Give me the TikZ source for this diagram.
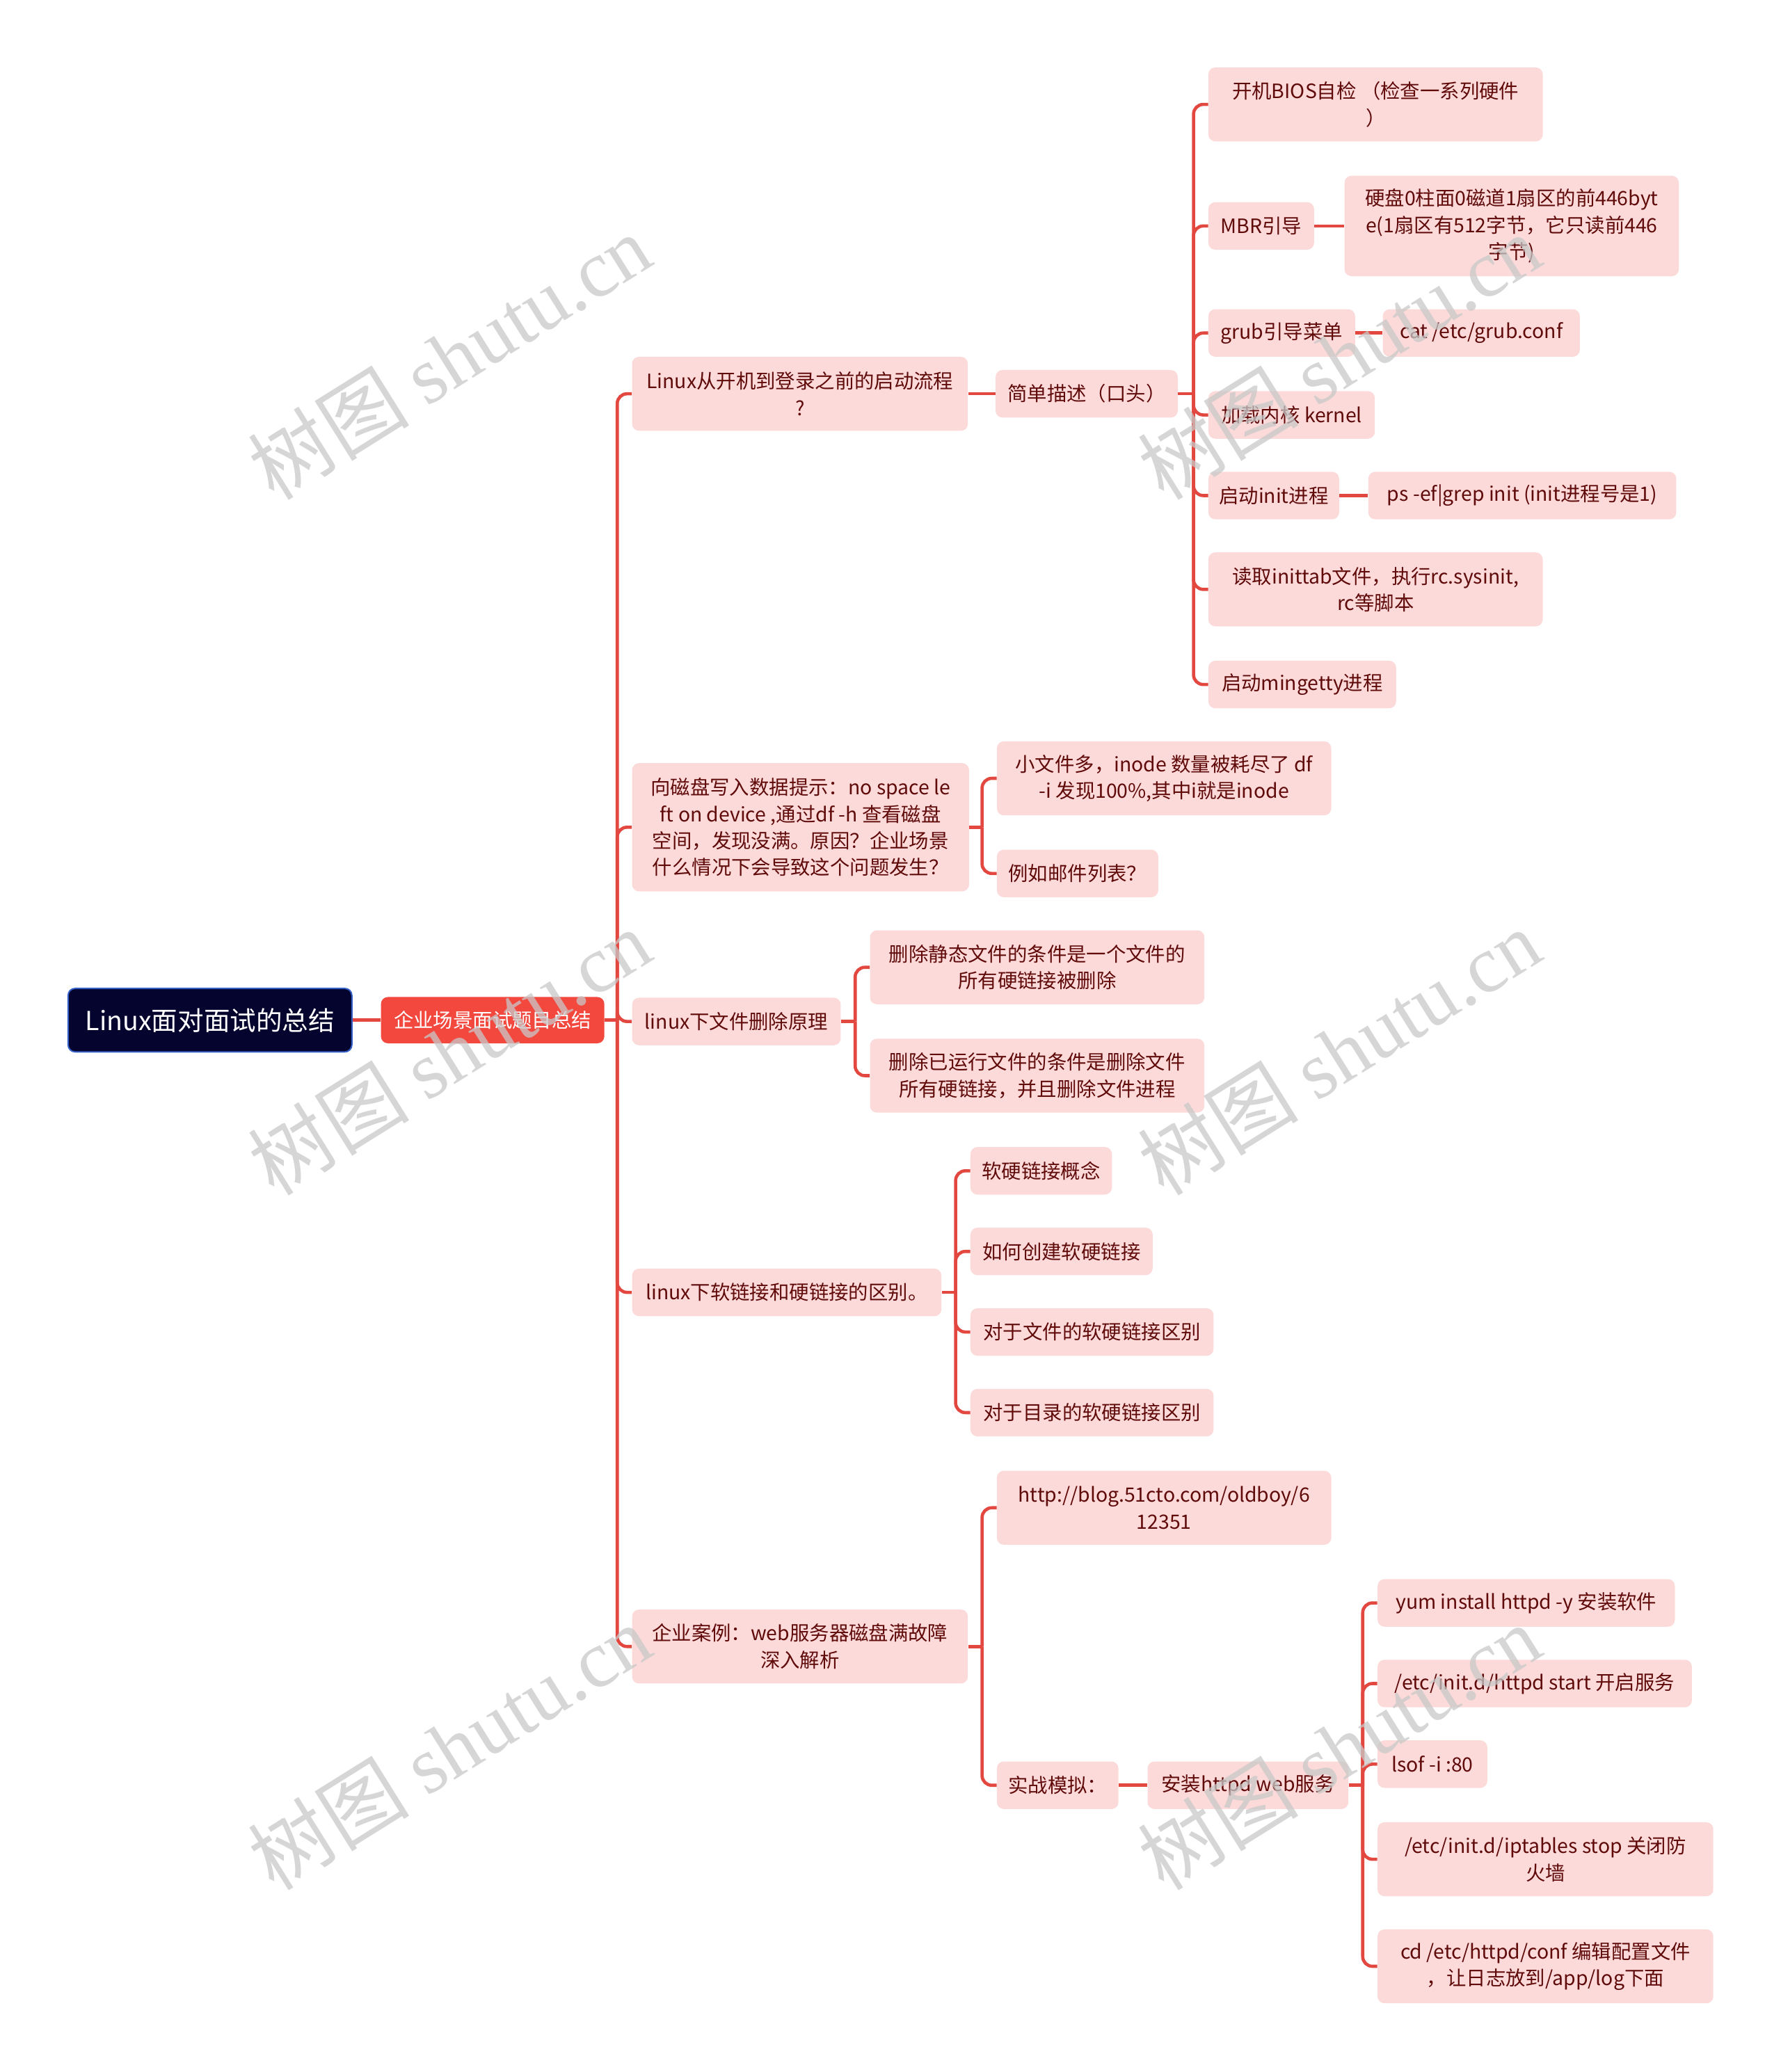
\documentclass[tikz,border=0pt]{standalone}
\usepackage{fontspec}
\setmainfont{Noto Sans CJK SC}
\newfontfamily\wmserif{Liberation Serif}
\definecolor{boxfill}{RGB}{252,218,218}
\definecolor{txtred}{RGB}{96,10,10}
\definecolor{linered}{RGB}{226,72,64}
\definecolor{lvone}{RGB}{242,72,62}
\definecolor{rootfill}{RGB}{4,4,46}
\definecolor{rootborder}{RGB}{52,96,200}
\definecolor{wmgray}{RGB}{200,200,200}
\begin{document}
\begin{tikzpicture}[x=0.95025pt,y=-0.95025pt,
  leaf/.style={rectangle, rounded corners=5pt, fill=boxfill, text=txtred,
    font=\fontsize{14.2}{19.2}\selectfont, align=center, inner xsep=6pt, inner ysep=3pt,
    minimum height=34.2pt, anchor=west},
  twol/.style={minimum height=53.2pt},
  conn/.style={draw=linered, line width=2.3pt},
  branchline/.style={conn, rounded corners=7pt},
  wm/.style={text=wmgray, opacity=0.75, rotate=32, font=\fontsize{58}{60}\selectfont}
]
\useasboundingbox (0,0) rectangle (1347,1568);

% root and level 1
\node[rectangle, rounded corners=5pt, fill=rootfill, draw=rootborder, line width=1pt, text=white,
  font=\fontsize{18.8}{22}\selectfont, minimum width=204pt, minimum height=45.6pt, anchor=west]
  (root) at (51,772) {Linux面对面试的总结};
\node[rectangle, rounded corners=5pt, fill=lvone, text=white, font=\fontsize{14.2}{19}\selectfont,
  minimum width=160.6pt, minimum height=33.3pt, anchor=west, inner xsep=4pt]
  (lone) at (288,772) {企业场景面试题目总结};

% level 2
\node[leaf, twol, minimum width=241.4pt] (A) at (478,298) {Linux从开机到登录之前的启动流程\\?};
\node[leaf, minimum width=242.3pt, minimum height=92.2pt] (B) at (478,626)
  {向磁盘写入数据提示：no space le\\ft on device ,通过df -h 查看磁盘\\空间，发现没满。原因？企业场景\\什么情况下会导致这个问题发生？};
\node[leaf, minimum width=150pt] (C) at (478,773) {linux下文件删除原理};
\node[leaf, minimum width=222.4pt] (D) at (478,978) {linux下软链接和硬链接的区别。};
\node[leaf, twol, minimum width=241.4pt] (E) at (478,1246) {企业案例：web服务器磁盘满故障\\深入解析};

% A subtree
\node[leaf, minimum width=131pt] (As) at (753,298) {简单描述（口头）};
\node[leaf, twol, minimum width=240.4pt] (a1) at (914,79) {开机BIOS自检 （检查一系列硬件\\）};
\node[leaf, minimum width=76pt] (a2) at (914,171) {MBR引导};
\node[leaf, minimum width=240.4pt, minimum height=72.2pt] (a2c) at (1017,171)
  {硬盘0柱面0磁道1扇区的前446byt\\e(1扇区有512字节，它只读前446\\字节)};
\node[leaf, minimum width=105.5pt] (a3) at (914,252) {grub引导菜单};
\node[leaf, minimum width=141.6pt] (a3c) at (1046,252) {cat /etc/grub.conf};
\node[leaf, minimum width=119.7pt] (a4) at (914,314) {加载内核 kernel};
\node[leaf, minimum width=94pt] (a5) at (914,375) {启动init进程};
\node[leaf, minimum width=221.4pt] (a5c) at (1035,375) {ps -ef|grep init (init进程号是1)};
\node[leaf, twol, minimum width=240.4pt] (a6) at (914,446) {读取inittab文件，执行rc.sysinit,\\rc等脚本};
\node[leaf, minimum width=135pt] (a7) at (914,518) {启动mingetty进程};

% B subtree
\node[leaf, twol, minimum width=240.4pt] (b1) at (754,589) {小文件多，inode 数量被耗尽了 df\\-i 发现100\%,其中i就是inode};
\node[leaf, minimum width=116pt] (b2) at (754,661) {例如邮件列表？};

% C subtree
\node[leaf, twol, minimum width=240.4pt] (c1) at (658,732) {删除静态文件的条件是一个文件的\\所有硬链接被删除};
\node[leaf, twol, minimum width=240.4pt] (c2) at (658,814) {删除已运行文件的条件是删除文件\\所有硬链接，并且删除文件进程};

% D subtree
\node[leaf, minimum width=101.7pt] (d1) at (734,886) {软硬链接概念};
\node[leaf, minimum width=131pt] (d2) at (734,947) {如何创建软硬链接};
\node[leaf, minimum width=174.8pt] (d3) at (734,1008) {对于文件的软硬链接区别};
\node[leaf, minimum width=174.8pt] (d4) at (734,1069) {对于目录的软硬链接区别};

% E subtree
\node[leaf, twol, minimum width=240.4pt] (e1) at (754,1141) {http://blog.51cto.com/oldboy/6\\12351};
\node[leaf, minimum width=87.4pt] (e2) at (754,1351) {实战模拟：};
\node[leaf, minimum width=144.4pt] (e2c) at (868,1351) {安装httpd web服务};
\node[leaf, minimum width=213.8pt] (f1) at (1042,1213) {yum install httpd -y 安装软件};
\node[leaf, minimum width=226pt] (f2) at (1042,1274) {/etc/init.d/httpd start 开启服务};
\node[leaf, minimum width=78.9pt] (f3) at (1042,1335) {lsof -i :80};
\node[leaf, twol, minimum width=241.4pt] (f4) at (1042,1407) {/etc/init.d/iptables stop 关闭防\\火墙};
\node[leaf, twol, minimum width=241.4pt] (f5) at (1042,1488) {cd /etc/httpd/conf 编辑配置文件\\，让日志放到/app/log下面};

% trunk coordinates
\coordinate (tL) at (467,772);
\coordinate (tAs) at (903,298);
\coordinate (tB) at (743,626);
\coordinate (tC) at (647,773);
\coordinate (tD) at (723,978);
\coordinate (tE) at (743,1246);
\coordinate (tH) at (1031,1351);

% connectors
\draw[conn] (root.east) -- (lone.west);
\draw[conn] (lone.east) -- (tL);
\foreach \c in {A,B,C,D,E} \draw[branchline] (tL) |- (\c.west);

\draw[conn] (A.east) -- (As.west);
\draw[conn] (As.east) -- (tAs);
\foreach \c in {a1,a2,a3,a4,a5,a6,a7} \draw[branchline] (tAs) |- (\c.west);
\draw[conn] (a2.east) -- (a2c.west);
\draw[conn] (a3.east) -- (a3c.west);
\draw[conn] (a5.east) -- (a5c.west);

\draw[conn] (B.east) -- (tB);
\foreach \c in {b1,b2} \draw[branchline] (tB) |- (\c.west);

\draw[conn] (C.east) -- (tC);
\foreach \c in {c1,c2} \draw[branchline] (tC) |- (\c.west);

\draw[conn] (D.east) -- (tD);
\foreach \c in {d1,d2,d3,d4} \draw[branchline] (tD) |- (\c.west);

\draw[conn] (E.east) -- (tE);
\foreach \c in {e1,e2} \draw[branchline] (tE) |- (\c.west);
\draw[conn] (e2.east) -- (e2c.west);
\draw[conn] (e2c.east) -- (tH);
\foreach \c in {f1,f2,f3,f4,f5} \draw[branchline] (tH) |- (\c.west);

% watermarks
\node[wm] (w1) at (340,270) {树图 {\wmserif shutu.cn}};
\node[wm] (w2) at (1013,270) {树图 {\wmserif shutu.cn}};
\node[wm] (w3) at (340,796) {树图 {\wmserif shutu.cn}};
\node[wm] (w4) at (1013,796) {树图 {\wmserif shutu.cn}};
\node[wm] (w5) at (340,1322) {树图 {\wmserif shutu.cn}};
\node[wm] (w6) at (1013,1322) {树图 {\wmserif shutu.cn}};
\end{tikzpicture}
\end{document}
